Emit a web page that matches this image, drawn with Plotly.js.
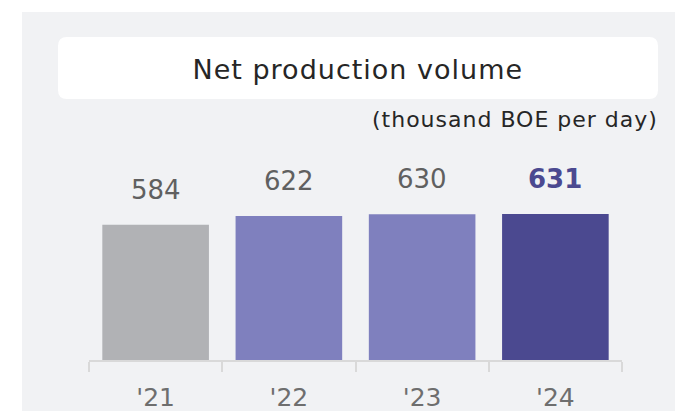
<!DOCTYPE html>
<html>
<head>
<meta charset="utf-8">
<script src="https://cdn.plot.ly/plotly-3.0.1.min.js"></script>
<style>
html,body{margin:0;padding:0;background:#fff;}
#chart{width:675px;height:411px;}
g.annotation[data-index="0"] text{letter-spacing:1px;}
g.annotation[data-index="1"] text{letter-spacing:1px;}
</style>
</head>
<body>
<div id="chart"></div>
<script>
// Data
const categories = ["'21", "'22", "'23", "'24"];
const values = [584, 622, 630, 631];
const chartTitle = "Net production volume";
const unitLabel = "(thousand BOE per day)";

// Styles
const barColors = ["#b1b2b5", "#7f80be", "#7f80be", "#4b4990"];
const W = 675, H = 411;
const L = 89, R = 53, T = 100, B = 51;
const pw = W - L - R, ph = H - T - B;
const px2x = p => (p - L) / pw;
const py2y = p => (H - B - p) / ph;
const FONT = "DejaVu Sans, Verdana, sans-serif";

function roundRect(x0, y0, x1, y1, r) {
  const X = px2x, Y = py2y;
  return `M ${X(x0 + r)},${Y(y0)} L ${X(x1 - r)},${Y(y0)} Q ${X(x1)},${Y(y0)} ${X(x1)},${Y(y0 + r)} ` +
    `L ${X(x1)},${Y(y1 - r)} Q ${X(x1)},${Y(y1)} ${X(x1 - r)},${Y(y1)} L ${X(x0 + r)},${Y(y1)} ` +
    `Q ${X(x0)},${Y(y1)} ${X(x0)},${Y(y1 - r)} L ${X(x0)},${Y(y0 + r)} Q ${X(x0)},${Y(y0)} ${X(x0 + r)},${Y(y0)} Z`;
}

const trace = {
  type: 'bar',
  x: categories,
  y: values,
  marker: {color: barColors, line: {width: 0}},
  hoverinfo: 'skip'
};

const valueAnnotations = categories.map((c, i) => {
  const last = i === categories.length - 1;
  return {
    x: c, y: values[i], xref: 'x', yref: 'y',
    text: last ? '<b>' + values[i] + '</b>' : String(values[i]),
    showarrow: false, yanchor: 'bottom', yshift: 18,
    font: {family: FONT, size: 26, color: last ? '#4b4990' : '#606060'}
  };
});

const layout = {
  width: W, height: H,
  margin: {l: L, r: R, t: T, b: B, pad: 0},
  paper_bgcolor: '#ffffff',
  plot_bgcolor: 'rgba(0,0,0,0)',
  showlegend: false,
  bargap: 0.2,
  xaxis: {
    type: 'category', range: [-0.5, 3.5], fixedrange: true,
    showline: true, linecolor: '#d9d9d9', linewidth: 2,
    ticks: 'outside', tickson: 'boundaries', ticklen: 10, tickwidth: 2, tickcolor: '#d9d9d9',
    ticklabelstandoff: 14,
    tickfont: {family: FONT, size: 25, color: '#6e6e6e'},
    showgrid: false, zeroline: false
  },
  yaxis: {
    range: [0, ph / (146 / 631)], visible: false, showgrid: false, zeroline: false, fixedrange: true
  },
  shapes: [
    {type: 'rect', xref: 'paper', yref: 'paper', x0: px2x(22), x1: px2x(675), y0: py2y(411), y1: py2y(12),
     fillcolor: '#f1f2f4', line: {width: 0}, layer: 'below'},
    {type: 'path', xref: 'paper', yref: 'paper', path: roundRect(58, 37, 658, 99, 9),
     fillcolor: '#ffffff', line: {width: 0}, layer: 'below'}
  ],
  annotations: [
    {xref: 'paper', yref: 'paper', x: px2x(358), y: py2y(69), text: chartTitle, showarrow: false,
     xanchor: 'center', yanchor: 'middle', font: {family: FONT, size: 27, color: '#262626'}},
    {xref: 'paper', yref: 'paper', x: px2x(649), y: py2y(120), text: unitLabel, showarrow: false,
     xanchor: 'right', yanchor: 'middle', font: {family: FONT, size: 22, color: '#262626'}}
  ].concat(valueAnnotations)
};

Plotly.newPlot('chart', [trace], layout, {displayModeBar: false, staticPlot: true});
</script>
</body>
</html>
